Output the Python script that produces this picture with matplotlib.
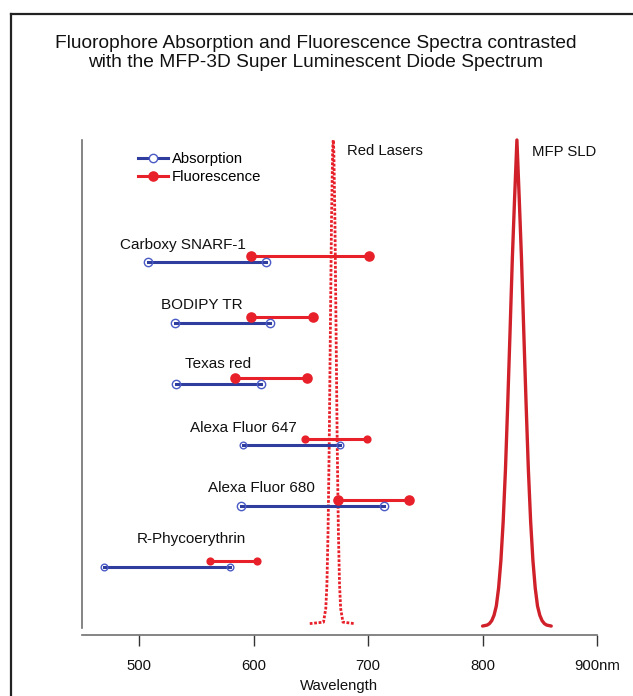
import matplotlib
matplotlib.use("Agg")
import matplotlib.pyplot as plt
from matplotlib.lines import Line2D

plt.rcParams['font.family'] = ['Liberation Sans', 'DejaVu Sans']

# dyes, top to bottom
dyes = ["Carboxy SNARF-1", "BODIPY TR", "Texas red",
        "Alexa Fluor 647", "Alexa Fluor 680", "R-Phycoerythrin"]
row_y = [0.75, 0.625, 0.5, 0.375, 0.25, 0.125]
abs_lo = [508, 531, 532, 591, 589, 469]
abs_hi = [611, 614, 606, 675, 714, 579]
fl_lo = [598, 598, 584, 645, 674, 562]
fl_hi = [701, 652, 647, 699, 736, 603]

# red laser spectrum
laser_wl = [649, 661, 663, 664, 665, 666, 667, 668, 669, 669.5,
            670, 671, 672, 673, 674, 675, 676, 678, 688]
laser_int = [0.009, 0.012, 0.04, 0.09, 0.2, 0.375, 0.607, 0.835, 0.98, 1.0,
             0.98, 0.835, 0.607, 0.375, 0.2, 0.09, 0.04, 0.012, 0.009]

# MFP SLD spectrum
sld_wl = [800, 804, 806, 808, 810, 812, 814, 816, 818, 820, 822, 824, 826, 828, 830,
          832, 834, 836, 838, 840, 842, 844, 846, 848, 850, 852, 854, 856, 860]
sld_int = [0.004, 0.006, 0.009, 0.015, 0.026, 0.045, 0.082, 0.138, 0.218, 0.325,
           0.461, 0.607, 0.757, 0.882, 1.0, 0.882, 0.757, 0.607, 0.461, 0.325,
           0.218, 0.138, 0.082, 0.045, 0.026, 0.015, 0.009, 0.006, 0.004]

ticks = [500, 600, 700, 800, 900]
tick_labels = ["500", "600", "700", "800", "900nm"]

# style / layout
big = [True, True, True, False, True, False]
label_x = [538, 555, 569, 591, 607, 546]
label_dy = [0.035, 0.037, 0.041, 0.035, 0.037, 0.057]
fl_dy = 0.013

blue = "#2F3D9E"
blue_edge = "#4B5BC6"
red = "#E8202A"
sld_red = "#D0202A"
gray = "#707070"

W, H = 633, 696
fig = plt.figure(figsize=(W / 100, H / 100), dpi=100)
ax = fig.add_axes([82 / W, 1 - 635 / H, 518 / W, 505 / H])
ax.set_xlim(450, 450 + 518 / 1.1445)
ax.set_ylim(-7 / 488, 498 / 488)

# spectra
ax.plot(laser_wl, laser_int, color=red, lw=2.0, linestyle=(0, (1, 0.6)))
ax.plot(sld_wl, sld_int, color=sld_red, lw=2.4, solid_capstyle='round')

for i in range(len(dyes)):
    ms_o = 6.0 if big[i] else 4.8
    ms_f = 6.6 if big[i] else 4.9
    y = row_y[i]
    ax.plot([abs_lo[i], abs_hi[i]], [y, y], color=blue, lw=2.2, zorder=3)
    ax.plot([abs_lo[i], abs_hi[i]], [y, y], ls='none', marker='o', ms=ms_o,
            mfc='none', mec=blue_edge, mew=1.0, zorder=4)
    yf = y + fl_dy
    ax.plot([fl_lo[i], fl_hi[i]], [yf, yf], color=red, lw=2.2, marker='o',
            ms=ms_f, mfc=red, mec=red, zorder=3)
    ax.text(label_x[i], y + label_dy[i], dyes[i], fontsize=11,
            ha='center', va='center', color='#111111')

ax.text(681.5, 0.978, "Red Lasers", fontsize=10.7, ha='left', va='center', color='#111111')
ax.text(843.6, 0.975, "MFP SLD", fontsize=10.7, ha='left', va='center', color='#111111')

# legend
h_abs = Line2D([], [], color=blue, lw=2.2, marker='o', ms=6, mfc='white',
               mec=blue_edge, mew=1.0)
h_fl = Line2D([], [], color=red, lw=2.2, marker='o', ms=6.6, mfc=red, mec=red)
leg = ax.legend([h_abs, h_fl], ["Absorption", "Fluorescence"], loc='upper left',
                bbox_to_anchor=((138 - 82) / 518, (635 - 152) / 505),
                frameon=False, fontsize=10.7, handlelength=2.0, handletextpad=0.3,
                labelspacing=0.25, borderpad=0, borderaxespad=0, numpoints=1)

# axes
for s in ['top', 'right']:
    ax.spines[s].set_visible(False)
ax.spines['left'].set_bounds(0, 1.0)
ax.spines['bottom'].set_bounds(450, 900)
for s in ['left', 'bottom']:
    ax.spines[s].set_color(gray)
    ax.spines[s].set_linewidth(1.2)
ax.set_yticks([])
ax.set_xticks(ticks)
ax.set_xticklabels(tick_labels)
ax.tick_params(axis='x', length=8, width=1.0, color='#333333', pad=9.5,
               labelsize=10.7, labelcolor='#111111')

fig.text(339 / W, 1 - 686 / H, "Wavelength", fontsize=10.7, ha='center', va='center',
         color='#111111')
fig.text(316 / W, 1 - 53 / H,
         "Fluorophore Absorption and Fluorescence Spectra contrasted\n"
         "with the MFP-3D Super Luminescent Diode Spectrum",
         fontsize=13.8, ha='center', va='center', linespacing=1.12, color='#111111')

# outer frame (cropped at right and bottom)
fig.add_artist(Line2D([11 / W, 1.0], [1 - 14 / H, 1 - 14 / H], color='#222222', lw=1.6))
fig.add_artist(Line2D([11 / W, 11 / W], [0, 1 - 14 / H], color='#222222', lw=1.6))

fig.savefig("out.png", dpi=100)
